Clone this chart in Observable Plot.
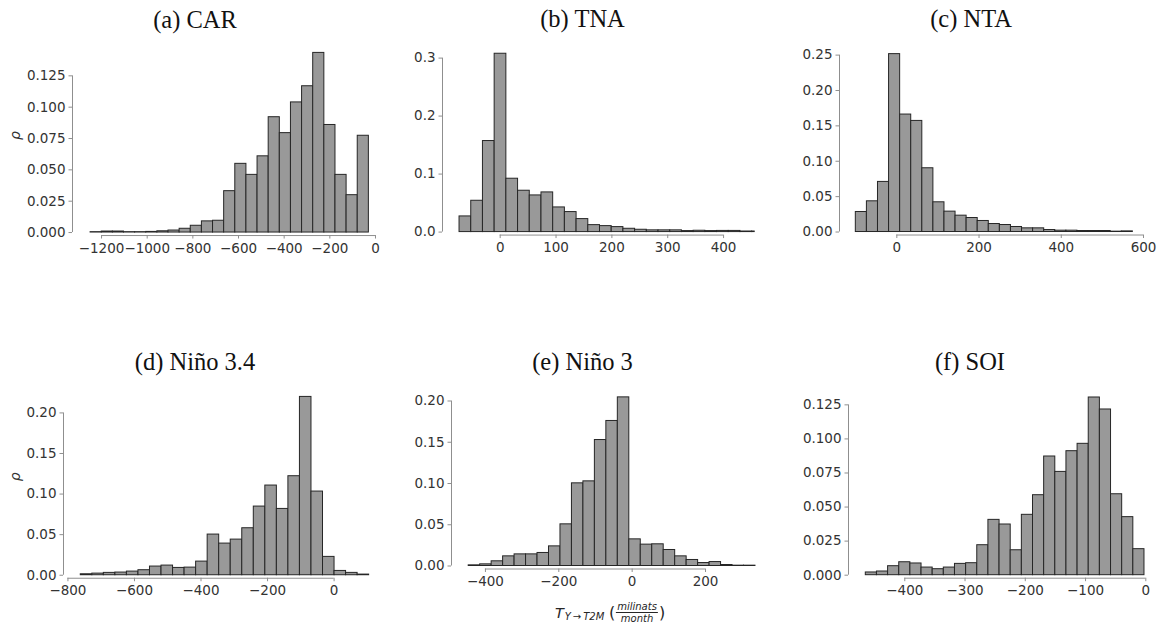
<!DOCTYPE html>
<html><head><meta charset="utf-8">
<script src="https://cdn.jsdelivr.net/npm/d3@7"></script>
<script src="https://cdn.jsdelivr.net/npm/@observablehq/plot@0.6"></script>
<style>
html,body{margin:0;padding:0;background:#fff}
#root{position:relative;width:1161px;height:631px;overflow:hidden;background:#fff}
.panel{position:absolute}
.title{position:absolute;font-family:"Liberation Serif","Times New Roman",serif;font-size:24.5px;line-height:24.5px;color:#111;transform:translateX(-50%);white-space:nowrap}
#xlabel{position:absolute;transform:translateX(-50%);font-family:"DejaVu Sans",sans-serif;font-size:14.5px;color:#262626;white-space:nowrap;display:flex;align-items:center}
#xlabel .sub{font-size:10px;font-style:italic;position:relative;top:4px;margin-left:1px}
#xlabel .frac{display:inline-flex;flex-direction:column;align-items:center;font-size:10px;font-style:italic;line-height:11px;margin:0 1px}
#xlabel .frac span:first-child{border-bottom:0.8px solid #262626;padding:0 1px}
#xlabel .paren{font-size:16px}
</style></head><body><div id="root"></div>
<script>
// ---- titles ----
const titles = ["(a) CAR", "(b) TNA", "(c) NTA", "(d) Niño 3.4", "(e) Niño 3", "(f) SOI"];
const yLabel = "ρ";

// ---- (a) CAR ----
const carBinStart = -1248, carBinWidth = 48.76;
const carDensity = [0.0003,0.0008,0.0008,0.0003,0.0003,0.0005,0.001,0.0016,0.003,0.0054,0.0089,0.0094,0.033,0.0548,0.046,0.0608,0.092,0.0793,0.1038,0.1167,0.1433,0.0858,0.046,0.0298,0.0772];
const carXTicks = [-1200,-1000,-800,-600,-400,-200,0];
const carYTicks = [0,0.025,0.05,0.075,0.1,0.125];

// ---- (b) TNA ----
const tnaBinStart = -72.8, tnaBinWidth = 20.96;
const tnaDensity = [0.027,0.054,0.157,0.3075,0.092,0.0713,0.0632,0.0684,0.0425,0.0345,0.0224,0.012,0.0103,0.0086,0.0057,0.004,0.003,0.003,0.003,0.0017,0.0023,0.0017,0.002,0.002,0.001,0.001];
const tnaXTicks = [0,100,200,300,400];
const tnaYTicks = [0,0.1,0.2,0.3];

// ---- (c) NTA ----
const ntaBinStart = -99.7, ntaBinWidth = 26.95;
const ntaDensity = [0.0283,0.0434,0.0708,0.2514,0.166,0.157,0.0901,0.042,0.0288,0.0231,0.0198,0.0156,0.0113,0.0099,0.0071,0.0052,0.0052,0.0028,0.0019,0.0019,0.0014,0.0014,0.0014,0.0005,0.0009];
const ntaXTicks = [0,200,400,600];
const ntaYTicks = [0,0.05,0.1,0.15,0.2,0.25];

// ---- (d) Niño 3.4 ----
const nino34BinStart = -761.4, nino34BinWidth = 34.67;
const nino34Density = [0.0012,0.002,0.0029,0.0033,0.0045,0.0062,0.0107,0.0119,0.009,0.0094,0.0168,0.0501,0.039,0.0439,0.0579,0.0846,0.1105,0.0817,0.122,0.2197,0.1031,0.0226,0.0053,0.0029,0.0008];
const nino34XTicks = [-800,-600,-400,-200,0];
const nino34YTicks = [0,0.05,0.1,0.15,0.2];

// ---- (e) Niño 3 ----
const nino3BinStart = -445.6, nino3BinWidth = 31.27;
const nino3Density = [0.0008,0.002,0.0057,0.0117,0.0141,0.0141,0.0158,0.0238,0.0505,0.1002,0.1026,0.1527,0.1758,0.2044,0.0323,0.0259,0.0263,0.0194,0.0117,0.0073,0.0036,0.0048,0.0012,0.0004,0.0004];
const nino3XTicks = [-400,-200,0,200];
const nino3YTicks = [0,0.05,0.1,0.15,0.2];

// ---- (f) SOI ----
const soiBinStart = -464.7, soiBinWidth = 18.5;
const soiDensity = [0.002,0.0027,0.0066,0.0095,0.0086,0.0056,0.0044,0.0056,0.0083,0.0088,0.022,0.0406,0.0372,0.0183,0.0443,0.0587,0.0871,0.0758,0.091,0.0964,0.1304,0.1216,0.0594,0.0426,0.0191];
const soiXTicks = [-400,-300,-200,-100,0];
const soiYTicks = [0,0.025,0.05,0.075,0.1,0.125];

// ---- layout (page pixel boxes of each axes) ----
const layout = [
  {px0:72,    px1:382.3, xDomain:[-1327.2,32],  pyBase:231.7, yMax:0.15,  pyTop:43.66, fmt:".3f", rho:true,  tx:195,   ty:28},
  {px0:442.3, px1:755,   xDomain:[-103.3,456.6],pyBase:231.7, yMax:0.32,  pyTop:46.1,  fmt:".1f", rho:false, tx:582.5, ty:27.5},
  {px0:838.7, px1:1146,  xDomain:[-139.4,608],  pyBase:231.2, yMax:0.265, pyTop:43.68, fmt:".2f", rho:false, tx:971,   ty:27.5},
  {px0:62.7,  px1:373.3, xDomain:[-813.3,120.2],pyBase:575,   yMax:0.235, pyTop:384.25,fmt:".2f", rho:true,  tx:195,   ty:370.5},
  {px0:451,   px1:758,   xDomain:[-492.5,344.4],pyBase:565,   yMax:0.22,  pyTop:383.5, fmt:".2f", rho:false, tx:582.5, ty:370.5},
  {px0:847.7, px1:1157,  xDomain:[-493.4,19.9], pyBase:574.3, yMax:0.137, pyTop:387.6, fmt:".3f", rho:false, tx:970,   ty:370.5}
];

const series = [
  [carBinStart, carBinWidth, carDensity, carXTicks, carYTicks],
  [tnaBinStart, tnaBinWidth, tnaDensity, tnaXTicks, tnaYTicks],
  [ntaBinStart, ntaBinWidth, ntaDensity, ntaXTicks, ntaYTicks],
  [nino34BinStart, nino34BinWidth, nino34Density, nino34XTicks, nino34YTicks],
  [nino3BinStart, nino3BinWidth, nino3Density, nino3XTicks, nino3YTicks],
  [soiBinStart, soiBinWidth, soiDensity, soiXTicks, soiYTicks]
];

const root = document.getElementById("root");
const spine = "#8f8f8f";
const ink = "#333";

series.forEach(([start, width, dens, xt, yt], i) => {
  const cfg = layout[i];
  const bins = dens.map((d, k) => ({x1: start + k * width, x2: start + (k + 1) * width, rho: d}));
  const mL = 70, mR = 22, mT = 8, mB = 30, inset = 3;
  const W = cfg.px1 - cfg.px0 + mL + mR;
  const H = (cfg.pyBase + inset - cfg.pyTop) + mT + mB;
  const marks = [
    Plot.rectY(bins, {x1: "x1", x2: "x2", y: "rho", fill: "#999999", stroke: "#262626", strokeWidth: 1, clip: true}),
    Plot.ruleX([cfg.xDomain[0]], {y1: yt[0], y2: yt[yt.length - 1], stroke: spine, strokeWidth: 1}),
    Plot.ruleY([0], {x1: xt[0], x2: xt[xt.length - 1], dy: inset, stroke: spine, strokeWidth: 1}),
    Plot.axisX({ticks: xt, tickSize: 3.5, tickPadding: 4, stroke: spine, fill: ink, label: null, tickFormat: d3.format("d")}),
    Plot.axisY({ticks: yt, tickSize: 3.5, tickPadding: 3.5, stroke: spine, fill: ink, label: null, tickFormat: d3.format(cfg.fmt)})
  ];
  if (cfg.rho) {
    marks.push(Plot.text([yLabel], {text: d => d, frameAnchor: "left", dx: -(cfg.px0 - 15), rotate: -90, fontStyle: "italic", fontSize: 14, fill: ink}));
  }
  const svg = Plot.plot({
    width: W, height: H,
    marginLeft: mL, marginRight: mR, marginTop: mT, marginBottom: mB,
    x: {domain: cfg.xDomain},
    y: {domain: [0, cfg.yMax], insetBottom: inset},
    style: {fontFamily: "DejaVu Sans, sans-serif", fontSize: "13.5px", color: ink, background: "transparent", overflow: "visible"},
    marks
  });
  svg.classList.add("panel");
  svg.style.left = (cfg.px0 - mL) + "px";
  svg.style.top = (cfg.pyTop - mT) + "px";
  root.appendChild(svg);

  const t = document.createElement("div");
  t.className = "title";
  t.textContent = titles[i];
  t.style.left = cfg.tx + "px";
  t.style.top = (cfg.ty - 20.5) + "px";
  root.appendChild(t);
});

// x label under panel (e)
const xl = document.createElement("div");
xl.id = "xlabel";
xl.style.left = "610px";
xl.style.top = "601px";
xl.innerHTML = '<i>T</i><span class="sub">Y\u2009\u2192\u2009T2M</span>&nbsp;<span class="paren">(</span><span class="frac"><span>milinats</span><span>month</span></span><span class="paren">)</span>';
root.appendChild(xl);
</script></body></html>
